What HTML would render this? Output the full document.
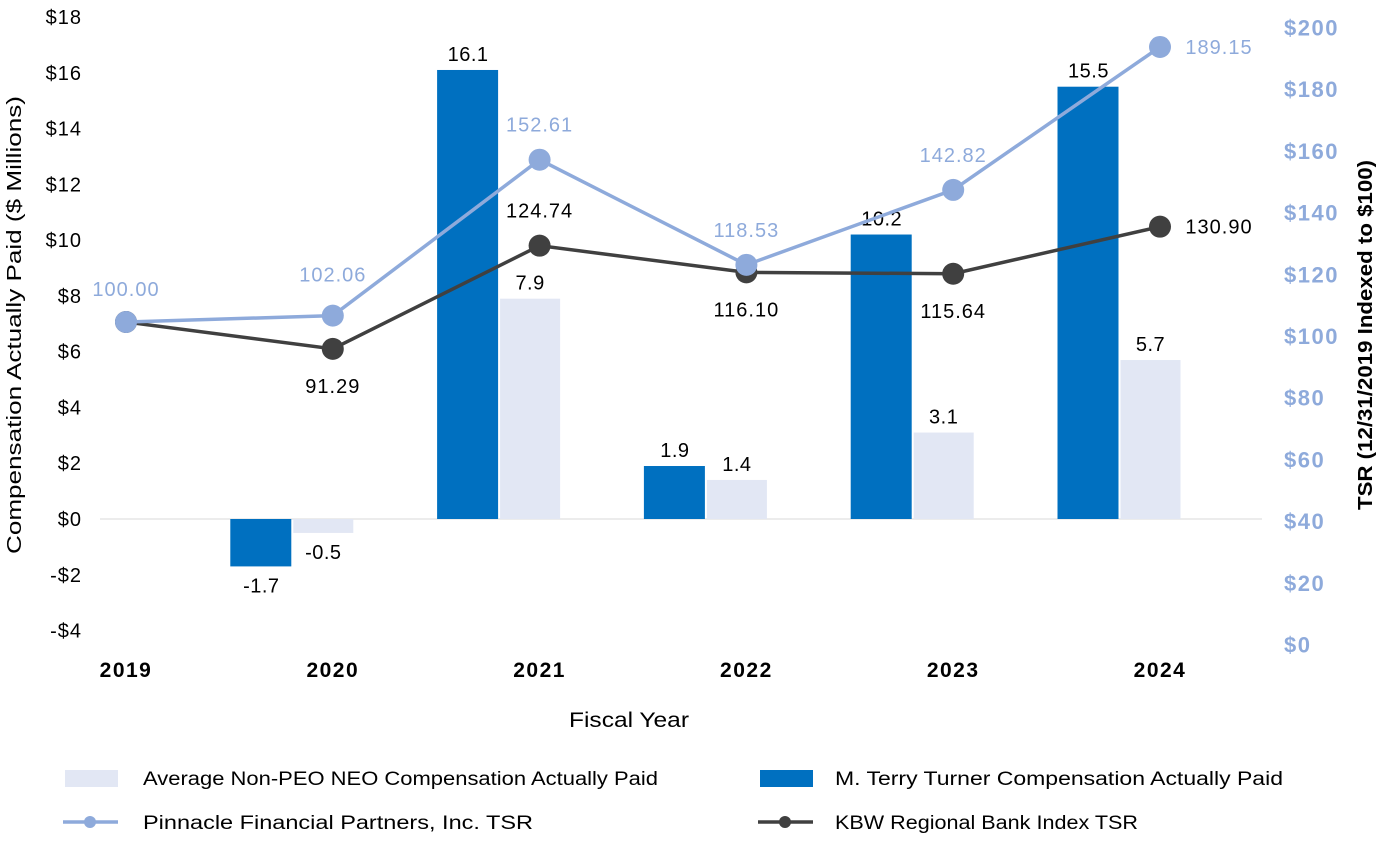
<!DOCTYPE html>
<html><head><meta charset="utf-8">
<style>
body{margin:0;background:#fff;font-family:"Liberation Sans",sans-serif;}
svg text{font-family:"Liberation Sans",sans-serif;}
</style></head>
<body>
<svg id="c" width="1382" height="838" xmlns="http://www.w3.org/2000/svg"></svg>
<script>
const years=["2019","2020","2021","2022","2023","2024"];
const turner=[null,-1.7,16.1,1.9,10.2,15.5];
const neo=[null,-0.5,7.9,1.4,3.1,5.7];
const pnfp=[100.00,102.06,152.61,118.53,142.82,189.15];
const kbw=[100.00,91.29,124.74,116.10,115.64,130.90];
const leftTicks=[-4,-2,0,2,4,6,8,10,12,14,16,18];
const rightTicks=[0,20,40,60,80,100,120,140,160,180,200];

const svg=document.getElementById('c');
const NS="http://www.w3.org/2000/svg";
function yL(v){return 519-v*27.89;}
function yR(v){return 630.5-v*3.085;}
function xC(i){return 126+i*206.8;}
function mk(tag,attrs,parent){const e=document.createElementNS(NS,tag);for(const k in attrs)e.setAttribute(k,attrs[k]);(parent||svg).appendChild(e);return e;}
function txt(x,y,s,attrs){const t=mk('text',Object.assign({x:x,y:y},attrs||{}));t.textContent=s;return t;}

const zl=mk('line',{x1:100,x2:1262,y1:yL(0),y2:yL(0),stroke:'#d9d9d9','stroke-width':1});



leftTicks.forEach(v=>{
  const t=txt(82,yL(v)+7,(v<0?'-$':'$')+Math.abs(v),{'font-size':20,'letter-spacing':'1','text-anchor':'end',fill:'#000'});
  
  
});
rightTicks.forEach(v=>{
  const t=txt(1284,yR(v)+22,'$'+v,{'font-size':22,'letter-spacing':'1.5','font-weight':'bold','text-anchor':'start',fill:'#8eaadb'});
  
  
});

years.forEach((y,i)=>{
  const gc=xC(i)-40.5;
  if(turner[i]!==null){
    const v=turner[i];const y0=yL(0),y1=yL(v);
    const r=mk('rect',{x:gc-62,y:Math.min(y0,y1),width:61,height:Math.abs(y1-y0),fill:'#0070c0'});
    
    
    const ly=v>=0?y1-9:y1+26;
    const l=txt(gc-31,ly,v.toFixed(1),{'font-size':20,'letter-spacing':'0.5','text-anchor':'middle'});
    
    
  }
  if(neo[i]!==null){
    const v=neo[i];const y0=yL(0),y1=yL(v);
    const r=mk('rect',{x:gc+1,y:Math.min(y0,y1),width:60,height:Math.abs(y1-y0),fill:'#e2e7f4'});
    
    
    const ly=v>=0?y1-9:y1+26;
    const l=txt(gc+31,ly,v.toFixed(1),{'font-size':20,'letter-spacing':'0.5','text-anchor':'middle'});
    
    
  }
  const xl=txt(xC(i),677,y,{'font-size':21,'letter-spacing':'1.5','font-weight':'bold','text-anchor':'middle'});
  
  
});

function series(vals,color,name){
  const pts=vals.map((v,i)=>xC(i)+','+yR(v)).join(' ');
  const pl=mk('polyline',{points:pts,fill:'none',stroke:color,'stroke-width':3.5});
  
  
  vals.forEach((v,i)=>{
    const c=mk('circle',{cx:xC(i),cy:yR(v),r:11,fill:color});
    
    
  });
}
series(kbw,'#404040','kbw');
series(pnfp,'#8eaadb','pnfp');

const pOff=[[0,-26],[0,-34],[0,-28],[0,-28],[0,-28],[59,7]];
pnfp.forEach((v,i)=>{
  const l=txt(xC(i)+pOff[i][0],yR(v)+pOff[i][1],v.toFixed(2),{'font-size':20,'letter-spacing':'1','text-anchor':'middle',fill:'#8eaadb'});
  
  
});
const kOff=[null,[0,44],[0,-28],[0,44],[0,44],[59,7]];
kbw.forEach((v,i)=>{
  if(!kOff[i])return;
  const l=txt(xC(i)+kOff[i][0],yR(v)+kOff[i][1],v.toFixed(2),{'font-size':20,'letter-spacing':'1','text-anchor':'middle',fill:'#000'});
  
  
});

const lt=txt(0,0,'Compensation Actually Paid ($ Millions)',{'font-size':20,'text-anchor':'middle',textLength:458,lengthAdjust:'spacingAndGlyphs',transform:'translate(21,325) rotate(-90)'});


const rt=txt(0,0,'TSR (12/31/2019 Indexed to $100)',{'font-size':20,'font-weight':'bold','text-anchor':'middle',textLength:350,lengthAdjust:'spacingAndGlyphs',transform:'translate(1372,335) rotate(-90)'});


const xt=txt(629,727,'Fiscal Year',{'font-size':21,'text-anchor':'middle',textLength:120,lengthAdjust:'spacingAndGlyphs'});



const g1=mk('rect',{x:65,y:770,width:53,height:17,fill:'#e2e7f4'});


const t1=txt(143,785,'Average Non-PEO NEO Compensation Actually Paid',{'font-size':19,textLength:515,lengthAdjust:'spacingAndGlyphs'});


const g2=mk('rect',{x:760,y:770,width:53,height:17,fill:'#0070c0'});


const t2=txt(835,785,'M. Terry Turner Compensation Actually Paid',{'font-size':19,textLength:448,lengthAdjust:'spacingAndGlyphs'});


const l3=mk('line',{x1:63,x2:118,y1:822,y2:822,stroke:'#8eaadb','stroke-width':3.5});


const c3=mk('circle',{cx:90,cy:822,r:6,fill:'#8eaadb'});


const t3=txt(143,829,'Pinnacle Financial Partners, Inc. TSR',{'font-size':19,textLength:390,lengthAdjust:'spacingAndGlyphs'});


const l4=mk('line',{x1:758,x2:813,y1:822,y2:822,stroke:'#404040','stroke-width':3.5});


const c4=mk('circle',{cx:785,cy:822,r:6,fill:'#404040'});


const t4=txt(835,829,'KBW Regional Bank Index TSR',{'font-size':19,textLength:303,lengthAdjust:'spacingAndGlyphs'});


</script>
</body></html>
